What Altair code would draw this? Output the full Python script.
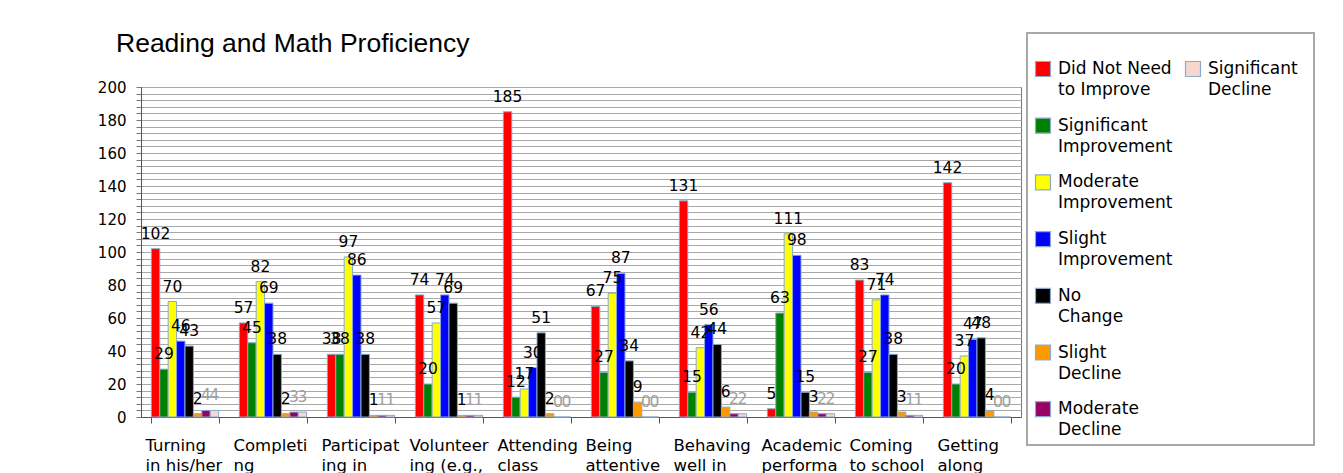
import altair as alt
import pandas as pd

title_text = ["Reading and Math Proficiency"]

categories = ["Turning|in his/her", "Completi|ng", "Participat|ing in", "Volunteer|ing (e.g.,",
              "Attending|class", "Being|attentive", "Behaving|well in", "Academic|performa",
              "Coming|to school", "Getting|along"]

series = ["Did Not Need to Improve", "Significant Improvement", "Moderate Improvement",
          "Slight Improvement", "No Change", "Slight Decline", "Moderate Decline",
          "Significant Decline"]
legend_labels = ["Did Not Need\nto Improve", "Significant\nImprovement", "Moderate\nImprovement",
                 "Slight\nImprovement", "No\nChange", "Slight\nDecline", "Moderate\nDecline",
                 "Significant\nDecline"]
legend_col = [0, 0, 0, 0, 0, 0, 0, 1]
legend_row = [0, 1, 2, 3, 4, 5, 6, 0]

colors = ["#ff0000", "#008000", "#ffff00", "#0000ff", "#000000", "#ff9900", "#990066", "#f6d6cf"]
label_colors = ["#000000", "#000000", "#000000", "#000000", "#000000", "#000000", "#a0a0a0", "#a0a0a0"]

did_not_need = [102, 57, 38, 74, 185, 67, 131, 5, 83, 142]
significant_improvement = [29, 45, 38, 20, 12, 27, 15, 63, 27, 20]
moderate_improvement = [70, 82, 97, 57, 17, 75, 42, 111, 71, 37]
slight_improvement = [46, 69, 86, 74, 30, 87, 56, 98, 74, 47]
no_change = [43, 38, 38, 69, 51, 34, 44, 15, 38, 48]
slight_decline = [2, 2, 1, 1, 2, 9, 6, 3, 3, 4]
moderate_decline = [4, 3, 1, 1, 0, 0, 2, 2, 1, 0]
significant_decline = [4, 3, 1, 1, 0, 0, 2, 2, 1, 0]

all_values = [did_not_need, significant_improvement, moderate_improvement, slight_improvement,
              no_change, slight_decline, moderate_decline, significant_decline]

rows = []
for ci, cat in enumerate(categories):
    for si, s in enumerate(series):
        rows.append({"category": cat, "series": s, "value": all_values[si][ci],
                     "labelColor": label_colors[si]})
df = pd.DataFrame(rows)

FONT = "DejaVu Sans"

x_enc = alt.X("category:N", sort=categories,
              scale=alt.Scale(paddingInner=0.235, paddingOuter=0.1175),
              axis=alt.Axis(title=None, labelExpr="split(datum.label, '|')", labelAlign="left",
                            labelOffset=-40, labelAngle=0, tickBand="extent", tickSize=6,
                            labelPadding=14, labelFontSize=16.5, labelFont=FONT, labelLineHeight=20,
                            labelOverlap=False, labelColor="black", domainColor="#555555",
                            tickColor="#555555", labelBaseline="top"))
y_enc = alt.Y("value:Q", scale=alt.Scale(domain=[0, 200], nice=False),
              axis=alt.Axis(title=None, values=list(range(0, 201, 4)),
                            labelExpr="datum.value % 20 == 0 ? datum.label : ''",
                            grid=True, gridColor="#a8a8a8", tickSize=5, labelPadding=10,
                            labelFontSize=15, labelFont=FONT, labelColor="black",
                            labelOverlap=False, domainColor="#555555", tickColor="#777777"))
xoff = alt.XOffset("series:N", sort=series, scale=alt.Scale(paddingInner=0, paddingOuter=0))
color_enc = alt.Color("series:N", sort=series, scale=alt.Scale(domain=series, range=colors),
                      legend=None)

bars = alt.Chart(df).mark_bar(stroke="#86aad4", strokeWidth=1).encode(
    x=x_enc, y=y_enc, xOffset=xoff, color=color_enc)
labels = alt.Chart(df).mark_text(dy=-10, baseline="alphabetic", fontSize=15.5, font=FONT).encode(
    x=x_enc, y=y_enc, xOffset=xoff, text="value:Q",
    color=alt.Color("labelColor:N", scale=None))

main = alt.layer(bars, labels).properties(
    width=880, height=330,
    view=alt.ViewBackground(stroke="#777777", strokeWidth=1))

title_chart = alt.Chart(pd.DataFrame({"t": title_text})).mark_text(
    align="left", baseline="alphabetic", fontSize=26.5, font="Liberation Sans", color="black"
).encode(text="t:N", x=alt.value(-25), y=alt.value(19)).properties(
    width=880, height=54, view=alt.ViewBackground(strokeOpacity=0))

left = alt.vconcat(title_chart, main, spacing=0, bounds="flush")

leg_df = pd.DataFrame({"series": series, "label": legend_labels, "col": legend_col,
                       "row": legend_row})
leg_base = alt.Chart(leg_df).encode(
    x=alt.X("col:Q", scale=alt.Scale(domain=[-0.1067, 1.8067], nice=False, zero=False), axis=None),
    y=alt.Y("row:Q", scale=alt.Scale(domain=[-0.635, 6.631], nice=False, zero=False, reverse=True),
            axis=None))
leg_sq = leg_base.mark_square(size=225, opacity=1, stroke="#8caad0", strokeWidth=1.2).encode(
    color=color_enc)
leg_tx = leg_base.mark_text(align="left", dx=15, baseline="middle", fontSize=17, font=FONT,
                            lineBreak="\n", lineHeight=21, color="black").encode(text="label:N")
legend = alt.layer(leg_sq, leg_tx).properties(
    width=287, height=412, view=alt.ViewBackground(stroke="#a8a8a8", strokeWidth=2))

chart = alt.hconcat(left, legend, spacing=4).properties(
    padding={"left": 88, "top": 23, "right": 0, "bottom": 0}
).configure(font=FONT).configure_view(fill="white")

chart.save("out.html", embed_options={"renderer": "svg", "actions": False})
